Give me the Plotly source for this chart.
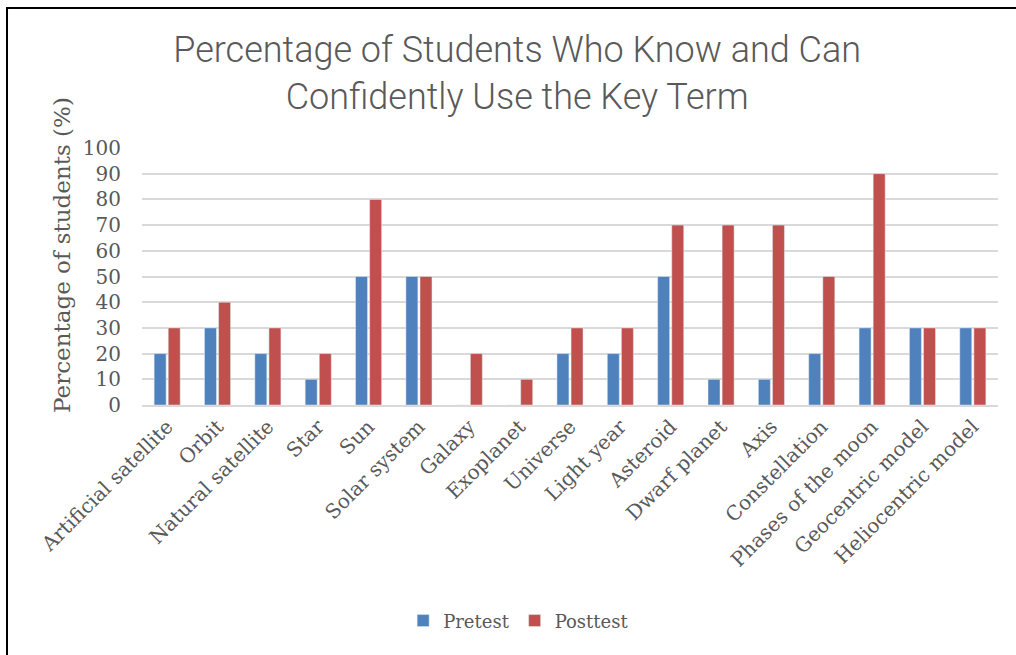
import plotly.graph_objects as go

categories = ["Artificial satellite", "Orbit", "Natural satellite", "Star", "Sun",
              "Solar system", "Galaxy", "Exoplanet", "Universe", "Light year",
              "Asteroid", "Dwarf planet", "Axis", "Constellation",
              "Phases of the moon", "Geocentric model", "Heliocentric model"]
pretest = [20, 30, 20, 10, 50, 50, 0, 0, 20, 20, 50, 10, 10, 20, 30, 30, 30]
posttest = [30, 40, 30, 20, 80, 50, 20, 10, 30, 30, 70, 70, 70, 50, 90, 30, 30]
y_ticks = list(range(0, 101, 10))

SERIF = "'DejaVu Serif', serif"
GREY = "#595959"

fig = go.Figure()
fig.add_trace(go.Bar(name="Pretest", x=categories, y=pretest, marker_color="#4f81bd"))
fig.add_trace(go.Bar(name="Posttest", x=categories, y=posttest, marker_color="#c0504d"))

fig.update_layout(
    width=1016, height=655,
    paper_bgcolor="white", plot_bgcolor="white",
    margin=dict(l=142, r=18, t=148, b=250, autoexpand=False),
    barmode="group", bargap=0.44, bargroupgap=0.15,
    title=dict(text="Percentage of Students Who Know and Can<br>Confidently Use the Key Term",
               x=0.509, xanchor="center", y=0.905, yanchor="middle",
               font=dict(family="Roboto, sans-serif", weight=300,
                         size=36, color=GREY)),
    font=dict(family=SERIF, color=GREY),
    legend=dict(orientation="h", x=0.440, xanchor="center", y=-0.84, yanchor="middle",
                font=dict(family=SERIF, size=18, color=GREY), traceorder="normal",
                itemwidth=30),
    xaxis=dict(tickangle=-45, tickfont=dict(family=SERIF, size=20, color=GREY),
               showline=True, linecolor="#d9d9d9", linewidth=2, ticks="",
               automargin=False),
    yaxis=dict(range=[0, 100], tickvals=y_ticks, ticktext=[str(v) for v in y_ticks],
               showgrid=True, gridcolor="#d9d9d9", gridwidth=1.5, zeroline=False,
               tickfont=dict(family=SERIF, size=20, color=GREY), ticks="", ticklen=0,
               ticklabelstandoff=20, automargin=False),
    annotations=[dict(text="Percentage of students (%)", xref="paper", yref="paper",
                      x=-0.0935, y=0.584, xanchor="center", yanchor="middle",
                      textangle=-90, showarrow=False,
                      font=dict(family=SERIF, size=23, color=GREY))],
    shapes=[dict(type="rect", xref="paper", yref="paper", x0=-0.1577, x1=1.1, y0=-1.2, y1=1.545,
                 line=dict(color="black", width=2))],
)

fig.write_html("out.html", config={"displayModeBar": False},
               post_script="document.body.style.margin='0';")
